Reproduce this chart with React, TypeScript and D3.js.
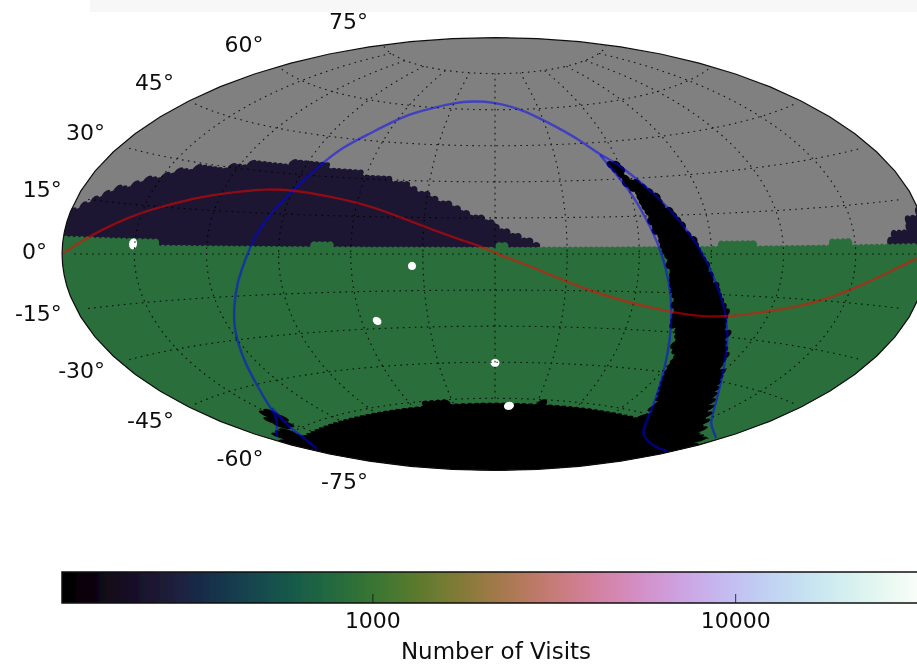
import React, { useMemo } from "react";
import * as d3 from "d3";

// footprint outlines in [ra, dec] degrees
const northBand = [[-180, 0], [-180, 11], [-178.4, 11.8], [-176.4, 13.9], [-170.6, 16], [-165.2, 18.6], [-157, 22.4], [-150.4, 23.7], [-146.8, 26], [-136.5, 28.4], [-122.4, 30.2], [-113.8, 33.2], [-101.2, 33.6], [-90.2, 34.4], [-83.6, 34.1], [-73.5, 33.6], [-58.2, 31.6], [-48.2, 29.9], [-39.9, 28.2], [-32, 25.1], [-22.7, 21.5], [-12, 17.4], [-6.4, 15], [2.1, 11.2], [10.4, 7.1], [17.5, 4.6], [17.5, 0]];
const northBandEast = [[163.8, 0], [163.8, 4], [164.9, 5.4], [171, 6.1], [173.3, 8.8], [178.1, 11.3], [180, 12], [180, 0]];
const wideFast = [[-180, 3.5], [-177, 3.5], [-140.8, 4.1], [-138.5, 1.9], [-77, 1.9], [-76.2, 4.2], [-67.5, 4.3], [-65.7, 2.4], [-5, 2.9], [5, 3.7], [5.4, 2.5], [17.5, 2.9], [67.4, 2.7], [85.3, 2.6], [97.9, 3.7], [138.1, 2.3], [139.6, 4.5], [148.8, 4.3], [149.8, 2.2], [164.5, 3.2], [176.9, 3], [180, 3], [180, -90], [-180, -90]];
const southCap = [[-180, -63], [-161.1, -61.4], [-127.3, -61.9], [-110.2, -61.5], [-90.7, -61.5], [-69.6, -61.6], [-37.1, -61.3], [-18, -61.8], [8.8, -62.3], [34.3, -61.4], [53.1, -62.2], [78.6, -62.2], [91.6, -61.9], [110.2, -61.5], [180, -62], [180, -90], [-180, -90]];
const planeStrip = [[55, 37.8], [59.8, 37.5], [61, 30.6], [68.3, 26.3], [76.3, 15.1], [84.1, 4.2], [89.9, -7.1], [99.9, -19.4], [105.8, -27.6], [111.2, -34.6], [123.7, -45.7], [139.9, -54.1], [167.2, -61], [180, -62], [110.2, -61.5], [114.4, -59.3], [107.5, -57.5], [95.8, -47.7], [79.2, -25.4], [79.3, -22.7], [74.1, -12.8], [70.3, 1.6], [65.5, 12.2], [60.7, 26.6], [53.6, 35]];
const planeSliver = [[-145.5, -51.9], [-146.9, -57.2], [-156.9, -58], [-162.5, -61.5], [-180, -63], [-180, -60], [-160.3, -58.2], [-155.9, -54.6]];
const deepFields = [[-150.7, 3.1], [-34.6, -4.9], [-53.1, -26.9], [0, -45.3], [10.4, -63.1]];

// visits per region
const northVisits = 240;
const wideVisits = 850;
const darkVisits = 140;
const deepVisits = 33000;

const galacticA = [[-174.4, -59.2], [-161.4, -57.4], [-150, -55.3], [-141.5, -51], [-132.7, -45.2], [-125.9, -37.8], [-120.3, -30], [-117.1, -24.9], [-113.2, -18.7], [-108.6, -10.3], [-104, -2.2], [-100.9, 5.1], [-96.8, 13.6], [-89.8, 24.1], [-83.6, 34.1], [-78.3, 41.6], [-70.5, 47], [-62.2, 52.9], [-53.6, 57.2], [-40.5, 60.3], [-30.7, 62.3], [-16.6, 63.5], [-1.5, 63.2], [15.4, 60.6], [26.9, 56.6], [36.6, 52.1], [47.1, 45.5], [52.7, 39.9], [59.2, 36.4], [68.3, 26.3], [76.5, 15.8], [85.3, 2.6], [91.8, -8.6], [99.9, -19.4], [107, -28.6], [112.1, -34.5], [124.3, -44.5], [149.5, -55.4], [155.2, -56.9], [177.1, -59]];
const galacticB = [[52.7, 39.9], [60.3, 25.5], [64.4, 13.4], [68.7, 2.7], [73.8, -11.3], [78, -22.8], [82.8, -33], [89.6, -43.1], [102.3, -54], [124.8, -64.1], [135.4, -66.3], [163.2, -67.4], [176.9, -66.4]];
const galacticC = [[-143.5, -52.7], [-154.2, -58], [-161.1, -61.4], [-175.8, -65.5]];
const ecliptic = [[-180, 0], [-172.8, 3.3], [-165.5, 6.6], [-153.4, 11.8], [-140.8, 15.7], [-128.4, 19.2], [-115.4, 21.8], [-101.4, 23.8], [-89.8, 24.1], [-71.2, 22.3], [-55.5, 19.6], [-40.5, 15.1], [-26, 9.9], [-11.7, 5], [-5, 2.9], [5, -1.7], [15.8, -5.4], [30.3, -11.5], [43.5, -15.8], [58.5, -19.5], [77, -22.4], [89.4, -23.4], [102.7, -23], [117.1, -20.3], [130.6, -17.7], [142.9, -14], [154.8, -9.3], [167.5, -4], [175.5, -1.1], [180, 0]];

const latTicks = [75, 60, 45, 30, 15, 0, -15, -30, -45, -60, -75];
const lonTicks = [-150, -120, -90, -60, -30, 0, 30, 60, 90, 120, 150];
const barTicks = [1000, 10000];

const width = 917;
const height = 665;
const vmin = 139;
const vmax = 33900;

function aitoffRaw(lam: number, phi: number) {
  const cosPhi = Math.cos(phi);
  const a = Math.acos(cosPhi * Math.cos(lam / 2));
  const s = a ? a / Math.sin(a) : 1;
  return [2 * cosPhi * Math.sin(lam / 2) * s, Math.sin(phi) * s];
}

// hex cells laid over the sky, each one takes the value of the last outline it falls in
function buildCells() {
  const spacing = 2.2;
  const rows = d3.range(-90, 90, (spacing * Math.sqrt(3)) / 2);
  const groups: Record<string, [number, number][]> = { north: [], wide: [], dark: [] };
  rows.forEach((lat, r) => {
    const step = spacing / Math.max(Math.cos((lat * Math.PI) / 180), 0.05);
    for (let lon = -180 + (r % 2 ? step / 2 : 0); lon < 180; lon += step) {
      const p: [number, number] = [lon, lat];
      if (
        d3.polygonContains(southCap as any, p) ||
        d3.polygonContains(planeStrip as any, p) ||
        d3.polygonContains(planeSliver as any, p)
      ) {
        groups.dark.push(p);
      } else if (d3.polygonContains(wideFast as any, p)) {
        groups.wide.push(p);
      } else if (d3.polygonContains(northBand as any, p) || d3.polygonContains(northBandEast as any, p)) {
        groups.north.push(p);
      }
    }
  });
  return groups;
}

export default function App() {
  const projection = useMemo(
    () => d3.geoProjection(aitoffRaw as any).scale(137.8).translate([495, 254]).precision(0.5),
    []
  );
  const path = d3.geoPath(projection);
  const cells = useMemo(buildCells, []);

  const visits = d3.scaleLog().domain([vmin, vmax]).range([0, 1]);
  const color = (v: number) => d3.interpolateCubehelixDefault(visits(v));
  const barX = d3.scaleLog().domain([vmin, vmax]).range([62, 928]);

  const cell = d3.geoCircle().radius(1.6).precision(30);
  const cellPath = (pts: [number, number][]) =>
    pts.map((c) => path(cell.center(c)() as any)).join("");
  const deepPath = d3.geoCircle().radius(1.7).precision(30);

  const curve = d3
    .line()
    .x((d: any) => (projection(d) as number[])[0])
    .y((d: any) => (projection(d) as number[])[1])
    .curve(d3.curveBasis);

  const meridians = lonTicks.map((lon) => d3.range(-75, 75.5, 2.5).map((lat) => [lon, lat]));
  const parallels = latTicks.map((lat) => d3.range(-175, 175.5, 2.5).map((lon) => [lon, lat]));

  return (
    <svg
      width={width}
      height={height}
      style={{ position: "absolute", left: 0, top: 0, background: "white", fontFamily: "DejaVu Sans" }}
    >
      <defs>
        <linearGradient id="cubehelix">
          {d3.range(0, 1.001, 0.02).map((t) => (
            <stop key={t} offset={t} stopColor={d3.interpolateCubehelixDefault(t)} />
          ))}
        </linearGradient>
        <filter id="soft" x="-5%" y="-5%" width="110%" height="110%">
          <feGaussianBlur stdDeviation="0.55" />
        </filter>
      </defs>
      <g filter="url(#soft)">
        <rect x={90} y={0} width={827} height={12} fill="#f7f7f7" />
        <path d={path({ type: "Sphere" } as any) || ""} fill="#808080" />
        <path d={cellPath(cells.north)} fill={color(northVisits)} />
        <path d={cellPath(cells.wide)} fill={color(wideVisits)} />
        <path d={cellPath(cells.dark)} fill={color(darkVisits)} />
        {deepFields.map((c, i) => (
          <path key={i} d={path(deepPath.center(c as any)() as any) || ""} fill={color(deepVisits)} />
        ))}
        <path
          d={path({ type: "MultiLineString", coordinates: [...meridians, ...parallels] } as any) || ""}
          fill="none"
          stroke="#000"
          strokeOpacity={0.85}
          strokeWidth={1.1}
          strokeDasharray="1.6 4.4"
        />
        {[galacticA, galacticB, galacticC].map((line, i) => (
          <path
            key={i}
            d={curve(line as any) || ""}
            fill="none"
            stroke="#0000ff"
            strokeOpacity={0.5}
            strokeWidth={2.4}
          />
        ))}
        <path d={curve(ecliptic as any) || ""} fill="none" stroke="#ff0000" strokeOpacity={0.5} strokeWidth={2.4} />
        <path d={path({ type: "Sphere" } as any) || ""} fill="none" stroke="#111" strokeWidth={1.2} />

        {latTicks.map((lat) => {
          const [x, y] = projection([-180, lat]) as [number, number];
          return (
            <text
              key={lat}
              x={x - 15}
              y={y - 2.5 - 22 * Math.sin((lat * Math.PI) / 180)}
              textAnchor="end"
              dominantBaseline="central"
              fontSize={22}
              fill="#111"
            >
              {lat}°
            </text>
          );
        })}

        <rect x={62} y={572} width={866} height={31} fill="url(#cubehelix)" stroke="#111" strokeWidth={1.5} />
        {barTicks.map((t) => (
          <g key={t}>
            <line x1={barX(t)} x2={barX(t)} y1={603} y2={594} stroke="#111" strokeWidth={0.8} />
            <text x={barX(t)} y={628} textAnchor="middle" fontSize={22} fill="#111">
              {t}
            </text>
          </g>
        ))}
        <text x={496} y={659} textAnchor="middle" fontSize={23} fill="#111">
          Number of Visits
        </text>
      </g>
    </svg>
  );
}
